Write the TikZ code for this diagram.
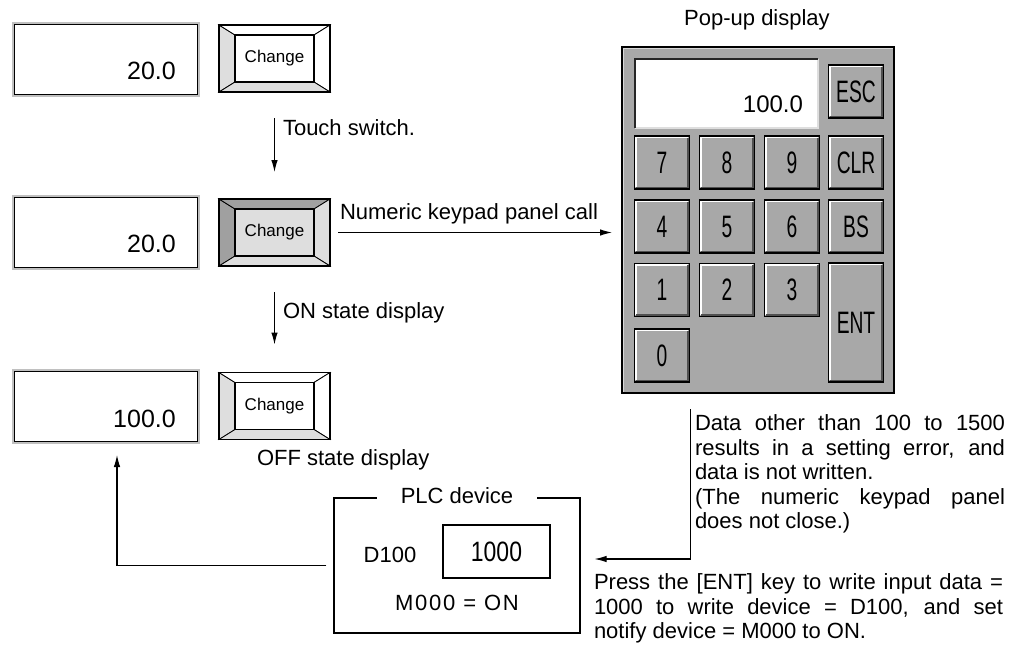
\documentclass[tikz,border=0pt]{standalone}
\usepackage{fontspec}
\setmainfont{Liberation Sans}
\newfontfamily\keyfont{Liberation Sans}[FakeStretch=0.62]
\newfontfamily\narrowfont{Liberation Sans}[FakeStretch=0.82]
\newfontfamily\spacedfont{Liberation Sans}[LetterSpace=8]
\usetikzlibrary{calc,arrows.meta}
\definecolor{keygray}{RGB}{168,168,168}
\definecolor{lgray}{RGB}{222,222,222}
\definecolor{mgray}{RGB}{160,160,160}
\definecolor{framegray}{RGB}{192,192,192}
\definecolor{shadowgray}{RGB}{80,80,80}
\newcommand\chgbtn[7]{%
  \node[btnout] (#1) at #2 {};
  \coordinate (#1a) at ($(#1.north west)+(16,10)$);
  \coordinate (#1b) at ($(#1.north east)+(-16,10)$);
  \coordinate (#1c) at ($(#1.south east)+(-16,-10)$);
  \coordinate (#1d) at ($(#1.south west)+(16,-10)$);
  \filldraw[fill=#3,line width=0.8pt] (#1.north west)--(#1a)--(#1d)--(#1.south west)--cycle;
  \filldraw[fill=#4,line width=0.8pt] (#1.north west)--(#1.north east)--(#1b)--(#1a)--cycle;
  \filldraw[fill=#5,line width=0.8pt] (#1.north east)--(#1.south east)--(#1c)--(#1b)--cycle;
  \filldraw[fill=#6,line width=0.8pt] (#1.south west)--(#1d)--(#1c)--(#1.south east)--cycle;
  \draw[line width=1.1pt] (#1.north west) rectangle (#1.south east);
  \node[btnin,fill=#7] (#1i) at #2 {Change};
}
\newcommand\kpkey[4]{%
  \node[keyst,#3] (#1) at #2 {#4};
  \draw[white, line width=1.6pt] ($(#1.south west)+(2.3,-2.3)$) |- ($(#1.north east)+(-2.3,2.3)$);
  \draw[shadowgray, line width=1.6pt] ($(#1.south west)+(2.3,-2.3)$) -| ($(#1.north east)+(-2.3,2.3)$);
}
\begin{document}
\begin{tikzpicture}[x=1pt,y=-1pt,
  txt/.style={font=\fontsize{22}{24.5}\selectfont, inner sep=0pt, outer sep=0pt},
  disp/.style={draw=black, line width=1pt, fill=white, preaction={draw=framegray, line width=5pt},
    minimum width=183pt, minimum height=70pt, inner sep=0pt},
  dnum/.style={font=\fontsize{25}{25}\selectfont, inner sep=0pt, anchor=base east},
  btnout/.style={minimum width=111pt, minimum height=67pt, inner sep=0pt, outer sep=0pt},
  btnin/.style={draw=black, line width=1.1pt, minimum width=79pt, minimum height=47pt, inner sep=0pt,
    font=\fontsize{17}{17}\selectfont},
  keyst/.style={draw=black, line width=1.4pt, fill=keygray, inner sep=0pt, minimum width=55pt,
    minimum height=53pt, font=\keyfont\fontsize{31}{31}\selectfont},
  arr/.style={line width=1.1pt, -{Latex[length=12pt,width=6.5pt]}},
  plain/.style={line width=1.1pt}
]
\useasboundingbox (0,0) rectangle (1010,653);

% ---------- left column: displays ----------
\node[disp] (d1) at (106,59) {};
\node[disp] (d2) at (106,232) {};
\node[disp] (d3) at (106,406.5) {};
\node[dnum] (d1v) at ($(d1.south east)+(-22,-15)$) {20.0};
\node[dnum] (d2v) at ($(d2.south east)+(-22,-15)$) {20.0};
\node[dnum] (d3v) at ($(d3.south east)+(-22,-15)$) {100.0};

% ---------- Change buttons ----------
\chgbtn{b1}{(274.5,58.5)}{lgray}{white}{white}{lgray}{white}
\chgbtn{b2}{(274.5,232.5)}{mgray}{mgray}{lgray}{lgray}{lgray}
\chgbtn{b3}{(274.5,406)}{lgray}{white}{white}{lgray}{white}

\draw[arr, shorten <=26pt, shorten >=27pt] (b1) -- (b2);
\node[txt, anchor=base west] (l1) at (283,135) {Touch switch.};
\draw[arr, shorten <=26pt, shorten >=28pt] (b2) -- (b3);
\node[txt, anchor=base west] (l2) at (283,318) {ON state display};
\node[txt, anchor=base west] (l3) at (257,465) {OFF state display};

% ---------- keypad ----------
\node[txt, anchor=base] (pop) at (757,25) {Pop-up display};
\node[draw=black, line width=2pt, fill=keygray, minimum width=272pt, minimum height=346pt, inner sep=0pt] (kp) at (758,220) {};
\draw[white!55!keygray, line width=1pt] ($(kp.south west)+(2.5,-2.5)$) |- ($(kp.north east)+(-2.5,2.5)$);
\node[fill=white, minimum width=183pt, minimum height=69pt, inner sep=0pt] (kd) at (726.5,93.5) {};
\draw[lgray, line width=2.5pt] (kd.south west) -| (kd.north east);
\draw[black!85, line width=2pt] (kd.south west) |- (kd.north east);
\node[font=\fontsize{24}{24}\selectfont, anchor=base east, inner sep=0pt] (kdv) at ($(kd.south east)+(-15,-16)$) {100.0};

\kpkey{kesc}{(856,91.5)}{}{ESC}
\kpkey{k7}{(662,162.5)}{}{7}
\kpkey{k8}{(727,162.5)}{}{8}
\kpkey{k9}{(792,162.5)}{}{9}
\kpkey{kclr}{(856,162.5)}{}{CLR}
\kpkey{k4}{(662,226.5)}{}{4}
\kpkey{k5}{(727,226.5)}{}{5}
\kpkey{k6}{(792,226.5)}{}{6}
\kpkey{kbs}{(856,226.5)}{}{BS}
\kpkey{k1}{(662,290)}{}{1}
\kpkey{k2}{(727,290)}{}{2}
\kpkey{k3}{(792,290)}{}{3}
\kpkey{kent}{(856,322.5)}{minimum height=119pt}{ENT}
\kpkey{k0}{(662,355.5)}{}{0}

\draw[arr, shorten <=8pt, shorten >=9pt] (b2.east) -- (b2.east -| kp.west);
\node[txt, anchor=base west] (l4) at (340,219) {Numeric keypad panel call};

% ---------- PLC device ----------
\node[draw=black, line width=1.1pt, minimum width=246pt, minimum height=135pt, inner sep=0pt] (plc) at (457,565.5) {};
\node[txt, fill=white, inner xsep=24pt, anchor=base] (plcl) at (457,503) {PLC device};
\node[draw=black, line width=1.1pt, minimum width=107pt, minimum height=53pt, inner sep=0pt,
  font=\narrowfont\fontsize{28}{28}\selectfont] (val) at (496.5,551.5) {1000};
\node[txt, anchor=base] (dl) at (390,562) {D100};
\node[txt, anchor=base] (ml) at (457,610) {\spacedfont M000 = ON};

\coordinate (t3) at (117,455);
\draw[arr, shorten <=7pt] (plc.west) -| (t3);
\draw[arr] ($(k7.east |- kp.south)+(0,15)$) |- ([xshift=14pt,yshift=6.5pt]plc.east);

% ---------- notes ----------
\node[txt, anchor=north west, align=left] (p1) at (695,415) {%
\makebox[310pt][s]{Data other than 100 to 1500}\\
\makebox[310pt][s]{results in a setting error, and}\\
data is not written.\\
\makebox[310pt][s]{(The numeric keypad panel}\\
does not close.)};
\node[txt, anchor=north west, align=left] (p2) at (594,574) {%
\makebox[409pt][s]{Press the [ENT] key to write input data =}\\
\makebox[409pt][s]{1000 to write device = D100, and set}\\
notify device = M000 to ON.};
\end{tikzpicture}
\end{document}
